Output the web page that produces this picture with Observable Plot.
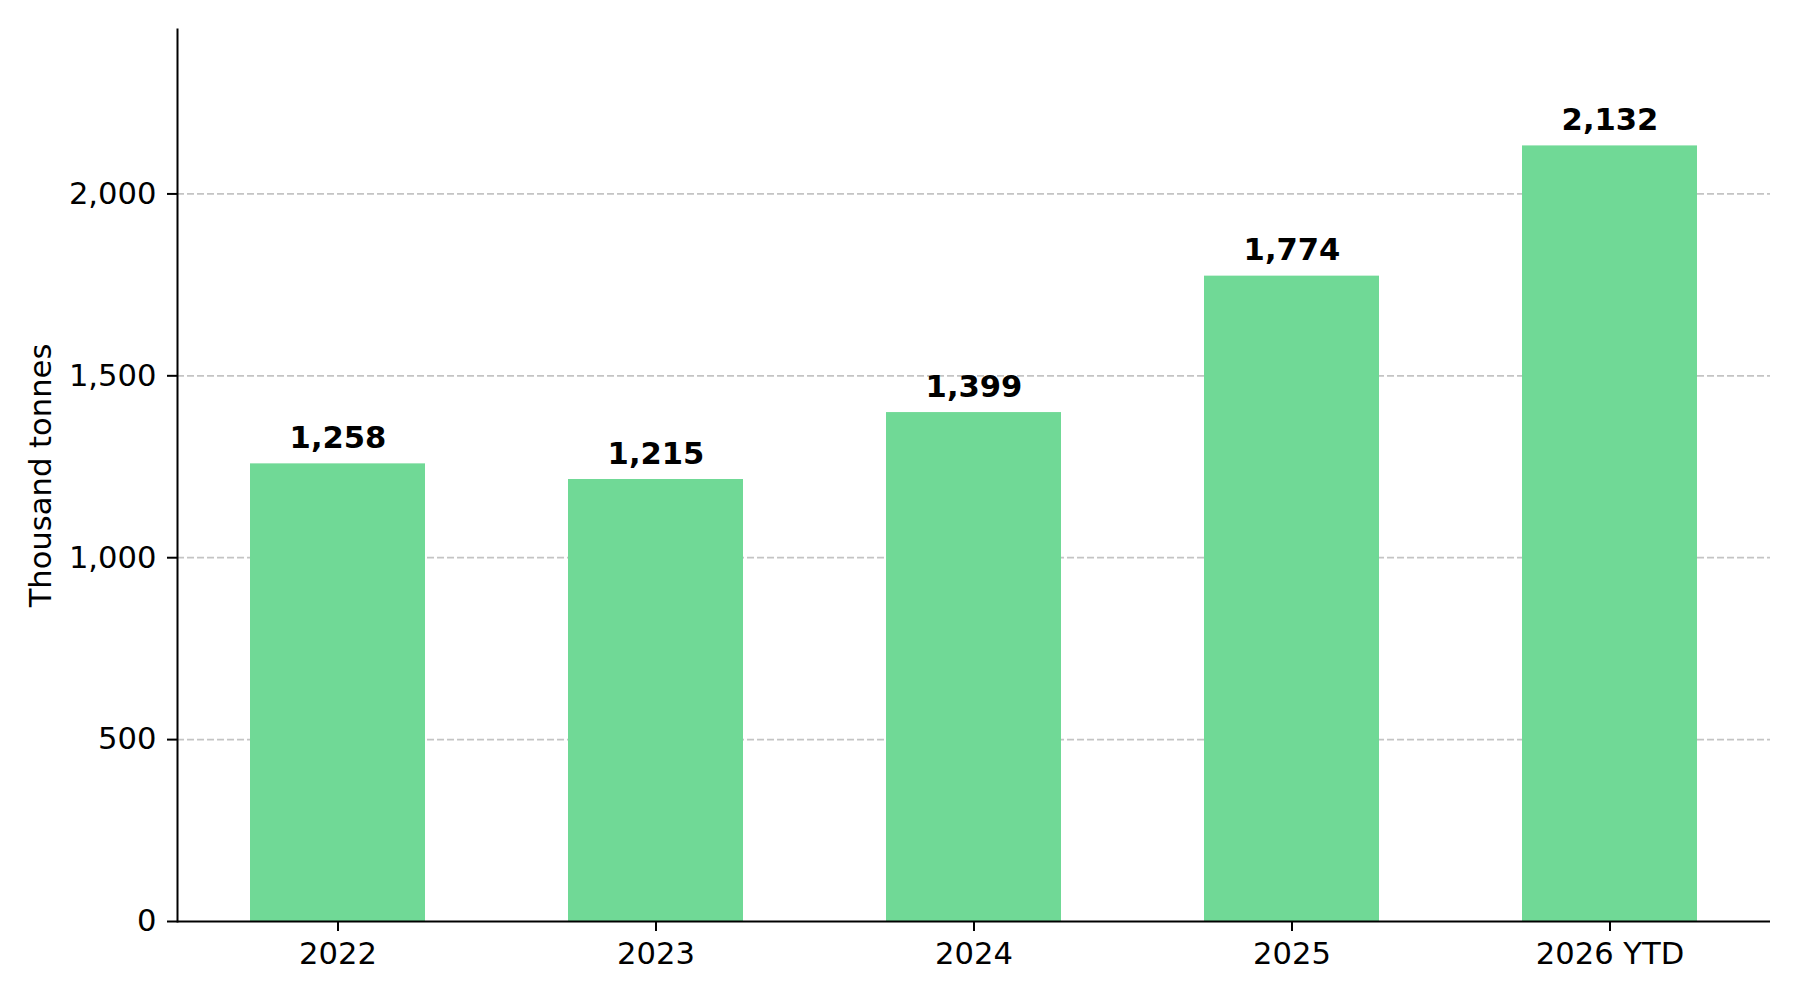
<!DOCTYPE html>
<html>
<head>
<meta charset="utf-8">
<script src="https://cdn.jsdelivr.net/npm/d3@7"></script>
<script src="https://cdn.jsdelivr.net/npm/@observablehq/plot@0.6"></script>
<style>
  html, body { margin: 0; padding: 0; background: #fff; }
  #chart { width: 1800px; height: 1000px; }
</style>
</head>
<body>
<div id="chart"></div>
<script>
const years = ["2022", "2023", "2024", "2025", "2026 YTD"];
const values = [1258, 1215, 1399, 1774, 2132];
const yTicks = [0, 500, 1000, 1500, 2000];
const gridTicks = [500, 1000, 1500, 2000];
const yMax = 2452;

const data = years.map((year, i) => ({year, value: values[i]}));
const fmt = d3.format(",");

const chart = Plot.plot({
  width: 1800,
  height: 1000,
  marginLeft: 177,
  marginRight: 30,
  marginTop: 29,
  marginBottom: 79,
  style: {fontFamily: "DejaVu Sans", fontSize: "30.6px", color: "#000", background: "#fff"},
  x: {domain: years, paddingInner: 0.45, paddingOuter: 0.225},
  y: {domain: [0, yMax]},
  marks: [
    Plot.gridY(gridTicks, {stroke: "#c4c4c4", strokeOpacity: 1, strokeWidth: 1.7, strokeDasharray: "7,3"}),
    Plot.barY(data, {x: "year", y: "value", fill: "#70d996"}),
    Plot.axisX({tickSize: 10, tickPadding: 10.5, fontSize: 30.6, strokeWidth: 2, label: null}),
    Plot.axisY({ticks: yTicks, tickFormat: fmt, tickSize: 10, tickPadding: 11, fontSize: 30.6, strokeWidth: 2,
      label: "Thousand tonnes", labelAnchor: "center", labelArrow: "none", labelOffset: 148}),
    Plot.ruleY([0], {stroke: "#000", strokeWidth: 2}),
    Plot.frame({anchor: "left", stroke: "#000", strokeWidth: 2}),
    Plot.text(data, {x: "year", y: "value", text: d => fmt(d.value), lineAnchor: "bottom", dy: -16,
      fontWeight: "bold", fontSize: 30.6, fill: "#000"})
  ]
});
document.getElementById("chart").appendChild(chart);
</script>
</body>
</html>
